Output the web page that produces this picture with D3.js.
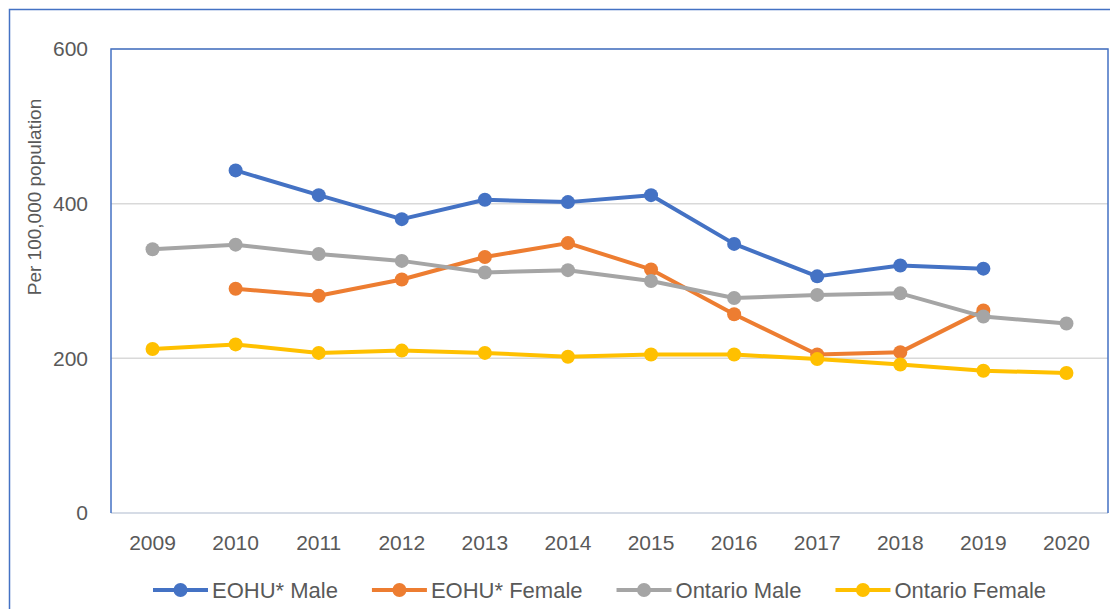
<!DOCTYPE html>
<html>
<head>
<meta charset="utf-8">
<script src="https://cdn.jsdelivr.net/npm/d3@7"></script>
<style>
  body { margin: 0; background: #fff; }
  svg { display: block; font-family: "Liberation Sans", Arial, sans-serif; }
</style>
</head>
<body>
<div id="chart"></div>
<script>
// chart data
const years = ["2009", "2010", "2011", "2012", "2013", "2014", "2015", "2016", "2017", "2018", "2019", "2020"];
const eohuMale = [null, 443, 411, 380, 405, 402, 411, 348, 306, 320, 316, null];
const eohuFemale = [null, 290, 281, 302, 331, 349, 315, 257, 205, 208, 262, null];
const ontarioMale = [341, 347, 335, 326, 311, 314, 300, 278, 282, 284, 254, 245];
const ontarioFemale = [212, 218, 207, 210, 207, 202, 205, 205, 199, 192, 184, 181];
const yTicks = [0, 200, 400, 600];

const series = [
  { name: "EOHU* Male", values: eohuMale, color: "#4472C4" },
  { name: "EOHU* Female", values: eohuFemale, color: "#ED7D31" },
  { name: "Ontario Male", values: ontarioMale, color: "#A5A5A5" },
  { name: "Ontario Female", values: ontarioFemale, color: "#FFC000" }
];

const width = 1110;
const height = 609;
const marginTop = 49;
const marginRight = 2;
const marginBottom = 96;
const marginLeft = 111;
const textColor = "#595959";

const svg = d3.select("#chart")
  .append("svg")
  .attr("width", width)
  .attr("height", height);

// outer frame
svg.append("rect")
  .attr("x", 9.5).attr("y", 9.5)
  .attr("width", 1300).attr("height", 800)
  .attr("fill", "none")
  .attr("stroke", "#4472C4")
  .attr("stroke-width", 1.5);

const x = d3.scaleBand()
  .domain(years)
  .range([marginLeft, width - marginRight]);

const y = d3.scaleLinear()
  .domain([0, 600])
  .range([height - marginBottom, marginTop]);

// gridlines
svg.append("g")
  .selectAll("line")
  .data(yTicks)
  .join("line")
  .attr("x1", marginLeft).attr("x2", width - marginRight)
  .attr("y1", d => y(d)).attr("y2", d => y(d))
  .attr("stroke", d => d === 0 ? "#C9D0DE" : "#D9D9D9")
  .attr("stroke-width", 1.5);

// plot area border (left, top, right)
svg.append("path")
  .attr("d", `M${marginLeft},${y(0)}V${marginTop}H${width - marginRight}V${y(0)}`)
  .attr("fill", "none")
  .attr("stroke", "#4472C4")
  .attr("stroke-width", 1.5);

// y axis
svg.append("g")
  .attr("transform", `translate(${marginLeft}, 0)`)
  .call(d3.axisLeft(y).tickValues(yTicks).tickSize(0).tickPadding(23))
  .call(g => g.select(".domain").remove())
  .call(g => g.selectAll("text")
    .attr("fill", textColor)
    .attr("font-size", 21)
    .attr("font-family", "Liberation Sans, Arial, sans-serif"));

// x axis
svg.append("g")
  .attr("transform", `translate(0, ${y(0)})`)
  .call(d3.axisBottom(x).tickSize(0).tickPadding(22))
  .call(g => g.select(".domain").remove())
  .call(g => g.selectAll("text")
    .attr("fill", textColor)
    .attr("font-size", 21)
    .attr("font-family", "Liberation Sans, Arial, sans-serif"));

// y axis title
svg.append("text")
  .attr("transform", `translate(41, 197) rotate(-90)`)
  .attr("text-anchor", "middle")
  .attr("fill", textColor)
  .attr("font-size", 19)
  .text("Per 100,000 population");

const cx = d => x(d) + x.bandwidth() / 2;

const line = d3.line()
  .defined(d => d.v != null)
  .x(d => cx(d.year))
  .y(d => y(d.v));

series.forEach(s => {
  const pts = years.map((yr, i) => ({ year: yr, v: s.values[i] }));
  const g = svg.append("g");
  g.append("path")
    .datum(pts)
    .attr("fill", "none")
    .attr("stroke", s.color)
    .attr("stroke-width", 4)
    .attr("stroke-linejoin", "round")
    .attr("d", line);
  g.selectAll("circle")
    .data(pts.filter(d => d.v != null))
    .join("circle")
    .attr("cx", d => cx(d.year))
    .attr("cy", d => y(d.v))
    .attr("r", 7)
    .attr("fill", s.color);
});

// legend
const legend = svg.append("g").attr("transform", "translate(0, 590)");
let lx = 153;
series.forEach(s => {
  const item = legend.append("g");
  item.append("line")
    .attr("x1", lx).attr("x2", lx + 55)
    .attr("stroke", s.color).attr("stroke-width", 4);
  item.append("circle")
    .attr("cx", lx + 27.5).attr("r", 7)
    .attr("fill", s.color);
  const t = item.append("text")
    .attr("x", lx + 59)
    .attr("dy", "0.35em")
    .attr("fill", textColor)
    .attr("font-size", 22)
    .text(s.name);
  lx += 59 + t.node().getComputedTextLength() + 34;
});
</script>
</body>
</html>
